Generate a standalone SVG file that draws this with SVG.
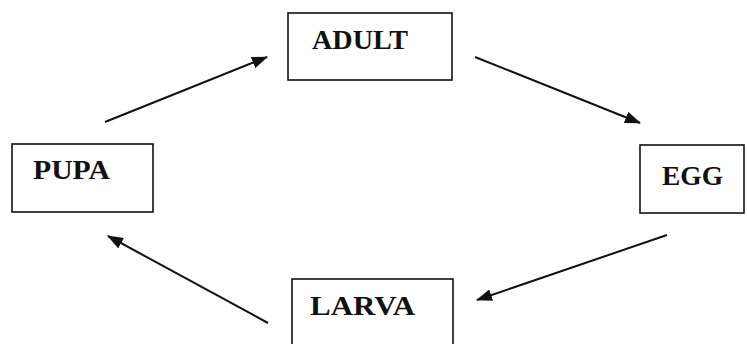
<svg xmlns="http://www.w3.org/2000/svg" width="747" height="344" viewBox="0 0 747 344">
  <style>
    .box { fill: #ffffff; stroke: #111111; stroke-width: 1.6; }
    .label { font-family: "Liberation Serif", "Times New Roman", serif; font-size: 27px; font-weight: bold; fill: #111111; }
    .edge { stroke: #111111; stroke-width: 2; fill: none; marker-end: url(#head); }
  </style>
  <defs>
    <marker id="head" viewBox="0 0 16 12" refX="15" refY="6" markerWidth="16" markerHeight="12" markerUnits="userSpaceOnUse" orient="auto">
      <path d="M0,0 L16,6 L0,12 Z" fill="#111111"/>
    </marker>
  </defs>
  <rect width="747" height="344" fill="#ffffff"/>

  <g id="connectors">
    <line class="edge" x1="105" y1="122" x2="267" y2="57"/>
    <line class="edge" x1="475" y1="57" x2="640" y2="123"/>
    <line class="edge" x1="667" y1="235" x2="477" y2="300"/>
    <line class="edge" x1="268" y1="323" x2="108" y2="236"/>
  </g>

  <g id="adult">
    <rect class="box" x="288" y="13" width="164" height="67"/>
    <text class="label" x="312" y="49" textLength="96" lengthAdjust="spacingAndGlyphs">ADULT</text>
  </g>
  <g id="egg">
    <rect class="box" x="640" y="145" width="104" height="68"/>
    <text class="label" x="662" y="185" textLength="61" lengthAdjust="spacingAndGlyphs">EGG</text>
  </g>
  <g id="larva">
    <rect class="box" x="292" y="279" width="161" height="70"/>
    <text class="label" x="310" y="315" textLength="105" lengthAdjust="spacingAndGlyphs">LARVA</text>
  </g>
  <g id="pupa">
    <rect class="box" x="12" y="144" width="141" height="68"/>
    <text class="label" x="33" y="179" textLength="77" lengthAdjust="spacingAndGlyphs">PUPA</text>
  </g>
</svg>
